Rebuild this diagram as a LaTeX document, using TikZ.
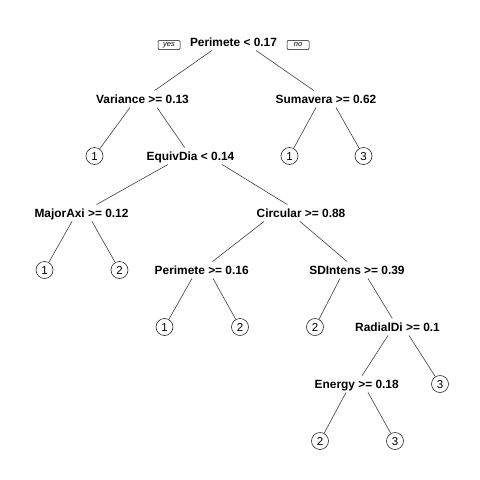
\documentclass[tikz,border=0pt]{standalone}
\usepackage{fontspec}
\setmainfont{Liberation Sans}
\begin{document}
\begin{tikzpicture}[x=1pt,y=-1pt,
    split/.style={font=\fontsize{11.9}{12}\selectfont\bfseries,text height=8.5pt,text depth=0pt,inner xsep=1pt,inner ysep=4pt},
    leaf/.style={circle,draw,line width=0.6pt,black!85,text=black,minimum size=17pt,inner sep=0pt,font=\fontsize{11.5}{12}\selectfont,text height=8.2pt,text depth=0pt},
    tag/.style={draw,rounded corners=1pt,line width=0.5pt,minimum width=22pt,minimum height=9pt,inner sep=0pt,font=\fontsize{7.5}{8}\selectfont\itshape},
    branch/.style={line width=0.6pt,black!75}]
                \fill[white] (0,0) rectangle (480,480);

                % splits
                \node[split] (root) at (233.5,42) {Perimete < 0.17};
                \node[split] (var) at (142.5,99) {Variance >= 0.13};
                \node[split] (sum) at (326,99) {Sumavera >= 0.62};
                \node[split] (equiv) at (190.5,156) {EquivDia < 0.14};
                \node[split] (major) at (81.5,213) {MajorAxi >= 0.12};
                \node[split] (circ) at (301,213) {Circular >= 0.88};
                \node[split] (per) at (201.7,270) {Perimete >= 0.16};
                \node[split] (sdi) at (357,270) {SDIntens >= 0.39};
                \node[split] (rad) at (397.5,327) {RadialDi >= 0.1};
                \node[split] (energy) at (356.7,384) {Energy >= 0.18};

                % leaves
                \node[leaf] (l1) at (94.5,156) {1};
                \node[leaf] (l2) at (289.5,156) {1};
                \node[leaf] (l3) at (363.5,156) {3};
                \node[leaf] (l4) at (44.5,270) {1};
                \node[leaf] (l5) at (119.5,270) {2};
                \node[leaf] (l6) at (164.5,327) {1};
                \node[leaf] (l7) at (240,327) {2};
                \node[leaf] (l8) at (315,327) {2};
                \node[leaf] (l9) at (440,384) {3};
                \node[leaf] (l10) at (320,441) {2};
                \node[leaf] (l11) at (395,441) {3};

                \node[tag] (yes) at (169,45) {yes};
                \node[tag] (no) at (298,45) {no};

                % branches
                \draw[branch] ([xshift=-21.5pt]root.south) -- (var);
                \draw[branch] ([xshift=22.5pt]root.south) -- (sum);
                \draw[branch] ([xshift=-12.5pt]var.south) -- (l1);
                \draw[branch] ([xshift=14.5pt]var.south) -- (equiv);
                \draw[branch] ([xshift=-10pt]sum.south) -- (l2);
                \draw[branch] ([xshift=10pt]sum.south) -- (l3);
                \draw[branch] ([xshift=-22.5pt]equiv.south) -- (major);
                \draw[branch] ([xshift=31.5pt]equiv.south) -- (circ);
                \draw[branch] ([xshift=-9.5pt]major.south) -- (l4);
                \draw[branch] ([xshift=10.5pt]major.south) -- (l5);
                \draw[branch] ([xshift=-37pt]circ.south) -- (per);
                \draw[branch] ([xshift=-1pt]circ.south) -- (sdi);
                \draw[branch] ([xshift=-9.7pt]per.south) -- (l6);
                \draw[branch] ([xshift=11.3pt]per.south) -- (l7);
                \draw[branch] ([xshift=-17pt]sdi.south) -- (l8);
                \draw[branch] ([xshift=11pt]sdi.south) -- (rad);
                \draw[branch] ([xshift=-9.5pt]rad.south) -- (energy);
                \draw[branch] ([xshift=11.5pt]rad.south) -- (l9);
                \draw[branch] ([xshift=-10.7pt]energy.south) -- (l10);
                \draw[branch] ([xshift=11.3pt]energy.south) -- (l11);
\end{tikzpicture}
\end{document}
